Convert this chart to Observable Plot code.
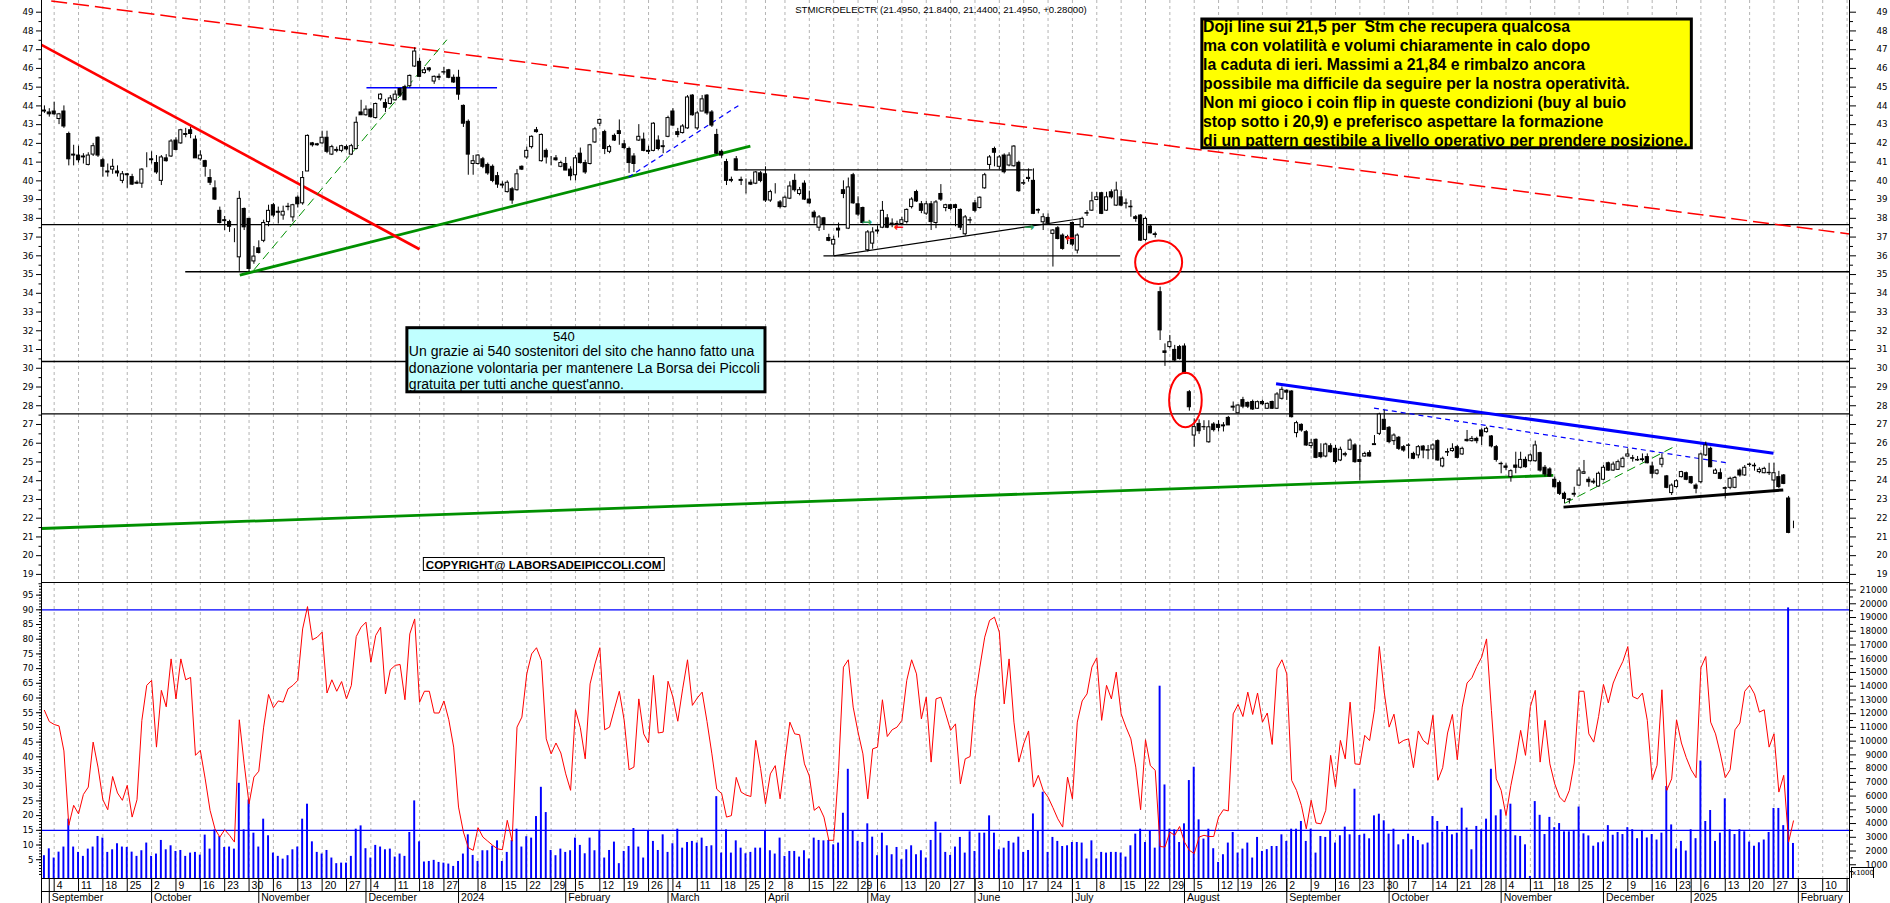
<!DOCTYPE html>
<html>
<head>
<meta charset="utf-8">
<script src="https://cdn.jsdelivr.net/npm/d3@7"></script>
<script src="https://cdn.jsdelivr.net/npm/@observablehq/plot@0.6"></script>
<style>
html,body{margin:0;padding:0;background:#fff;}
#chart{position:relative;width:1890px;height:903px;overflow:hidden;background:#fff;}
#chart svg{position:absolute;left:0;}
#x1000{position:absolute;left:1851px;top:867px;width:21px;height:10px;border:1px solid #000;border-bottom:none;font:7px "DejaVu Sans",sans-serif;line-height:10px;text-align:center;color:#000;}
</style>
</head>
<body>
<div id="chart"></div>
<script>
// ---------------- DATA ----------------
const firstSession = "2023-08-31";
const holidays = ["2023-12-25","2023-12-26","2024-01-01","2024-03-29","2024-04-01","2024-05-01","2024-08-15","2024-12-24","2024-12-25","2024-12-26","2024-12-31","2025-01-01"];
const monthNames = ["January","February","March","April","May","June","July","August","September","October","November","December"];

const open = [
43.75,43.65,43.7,43.3,43.7,42.5,41.4,41.35,41.25,40.85,
41.4,42.3,41.1,40.45,40.6,40.5,40.0,40.35,40.2,39.9,
39.85,41.0,41.15,40.95,40.0,41.2,41.3,42.15,42.0,42.45,
42.7,42.2,41.15,41.05,40.15,39.6,38.4,37.9,37.8,37.2,
35.92,38.5,37.97,35.7,36.4,36.8,37.8,38.7,38.35,38.15,
38.6,38.05,39.1,38.8,40.5,42.0,41.95,42.0,42.3,41.4,
41.6,41.6,41.8,41.4,41.7,43.65,43.5,43.8,43.35,44.35,
44.15,44.1,44.3,44.9,45.0,45.05,46.1,46.35,45.75,46.0,
45.3,45.5,45.78,45.9,45.5,45.5,44.0,43.15,40.9,40.9,
41.15,40.85,40.75,40.25,39.8,39.4,39.55,39.5,40.75,41.25,
41.8,42.7,41.05,41.6,41.05,41.2,40.75,40.9,40.6,40.3,
41.45,40.95,40.9,42.05,43.05,42.6,41.55,42.4,42.65,41.95,
41.7,41.3,42.15,42.2,41.6,41.6,42.15,41.8,42.35,43.7,
42.6,42.55,42.8,44.55,42.8,43.7,44.55,43.65,42.45,41.55,
41.0,40.0,41.15,40.05,39.95,39.9,39.85,40.4,40.35,38.95,
39.45,38.85,38.6,39.05,40.0,39.3,39.85,39.0,38.3,37.5,
38.0,36.95,36.6,37.45,39.5,37.45,40.3,38.75,38.55,36.3,
36.65,37.3,37.5,38.0,37.72,37.65,37.7,37.8,38.6,39.4,
38.75,38.25,38.75,37.75,39.3,38.55,38.7,38.7,38.45,37.15,
37.88,38.8,38.55,39.6,40.85,41.7,40.75,41.35,40.82,40.78,
40.96,39.85,40.1,40.0,38.45,37.79,38.02,37.17,37.47,37.08,
36.95,37.75,36.28,37.52,38.25,38.41,38.98,39.34,38.41,39.39,
38.68,39.12,38.78,38.62,38.06,38.15,36.85,37.56,37.15,34.06,
30.9,31.13,30.98,31.13,31.16,28.72,26.41,27.03,26.85,26.05,
27.0,26.98,26.95,27.35,27.9,27.6,28.3,28.15,28.2,27.84,
28.2,27.84,28.2,27.84,28.37,28.8,28.76,26.54,26.98,26.59,
25.85,26.18,25.47,25.29,25.84,25.7,25.08,25.36,25.65,25.88,
25.1,25.29,25.47,25.9,26.5,27.25,26.82,26.11,26.29,25.79,
25.86,25.43,25.35,25.82,25.6,25.66,26.11,24.76,25.5,25.58,
25.79,25.4,26.18,26.11,26.23,26.68,26.59,26.36,25.79,24.9,
24.76,24.19,24.81,24.69,25.11,25.04,25.04,25.47,24.69,24.6,
24.05,23.87,23.3,23.0,23.25,23.74,24.37,24.05,23.95,23.69,
24.05,24.93,24.54,24.58,24.72,25.29,25.2,25.08,25.14,25.26,
24.76,24.37,24.85,24.23,23.34,23.66,24.19,24.4,24.19,23.74,
23.92,25.35,25.7,24.37,24.4,23.6,23.62,23.62,24.54,24.28,
24.84,24.8,24.46,24.4,24.42,24.01,24.19,24.28,23.05,21.495];

const high = [
44.0,43.85,44.2,43.6,44.0,42.6,41.9,41.85,41.45,41.5,
42.0,42.35,41.2,40.9,41.15,40.8,40.5,40.4,40.35,40.0,
40.65,41.5,41.55,41.35,41.35,41.4,42.2,42.3,42.75,42.8,
42.85,42.4,41.6,41.1,40.6,40.0,38.6,38.1,37.9,37.45,
39.44,38.55,38.0,36.5,36.8,37.9,38.7,38.8,38.6,38.65,
38.8,38.75,39.2,40.5,42.45,42.05,42.0,42.65,42.65,41.9,
41.8,41.9,41.9,41.95,43.4,44.3,44.0,43.85,44.15,44.65,
44.35,44.55,44.8,44.95,45.1,45.65,47.1,46.55,46.05,46.05,
45.6,45.7,46.05,45.95,45.65,45.9,44.05,43.25,41.35,41.4,
41.25,40.95,40.85,40.45,39.95,40.0,39.65,40.6,40.8,41.8,
42.4,42.85,42.5,41.7,41.3,41.35,41.05,41.25,40.75,41.35,
41.75,41.1,41.95,42.85,43.3,42.7,41.9,42.5,43.25,42.15,
41.8,41.45,43.0,42.55,41.85,43.1,42.4,42.15,43.45,43.85,
42.8,43.0,44.55,44.6,43.7,44.55,44.6,43.75,42.75,41.65,
41.15,40.2,41.3,40.2,40.1,40.05,40.5,40.5,40.75,39.5,
39.85,38.95,39.2,39.95,40.35,39.65,40.0,39.45,38.4,38.15,
38.05,37.15,37.05,37.75,40.0,40.15,40.4,39.15,38.6,37.35,
37.5,37.6,38.9,38.2,37.97,37.85,38.05,38.5,39.1,39.5,
38.9,38.9,38.9,38.95,39.8,38.75,38.75,38.75,38.5,38.15,
38.05,38.95,39.15,40.4,41.35,41.8,41.35,41.44,41.5,41.88,
41.05,40.05,40.64,40.64,38.5,38.24,38.24,37.4,37.56,37.17,
37.1,37.8,37.17,38.06,38.41,39.39,39.39,39.39,39.39,39.52,
39.93,39.48,39.03,38.95,38.15,38.19,38.06,37.67,37.26,34.33,
31.3,31.75,31.22,31.22,31.3,28.81,27.3,27.25,27.2,27.2,
27.1,27.2,27.1,27.43,28.2,28.06,28.45,28.2,28.3,28.25,
28.3,28.15,28.25,28.7,29.0,28.85,28.8,27.17,27.03,26.68,
26.2,26.23,25.97,26.0,25.97,25.88,25.79,25.52,26.23,25.97,
25.88,25.52,25.6,26.41,27.6,27.75,26.89,26.5,26.36,25.88,
25.97,25.52,25.88,25.88,25.88,25.97,26.18,25.26,25.7,25.97,
25.88,25.79,26.68,26.36,26.32,26.77,26.86,26.41,25.88,24.99,
24.9,24.58,25.52,25.52,25.26,25.43,26.11,25.52,24.81,24.69,
24.19,23.98,23.39,23.03,23.65,24.69,25.08,24.19,24.1,24.46,
24.81,24.99,24.99,25.1,25.26,25.7,25.35,25.29,25.43,25.43,
24.99,24.6,25.43,24.28,23.83,24.05,24.5,24.46,24.23,23.83,
25.47,26.06,25.79,24.63,24.63,23.66,24.19,24.23,24.63,24.81,
24.93,24.93,24.69,24.72,24.93,24.93,24.5,24.33,23.16,21.84];

const low = [
43.6,43.4,43.5,43.0,42.8,40.8,40.8,40.95,40.9,40.8,
41.3,41.25,40.2,40.2,40.35,40.2,39.85,39.6,39.75,39.8,
39.6,40.7,40.9,40.35,39.75,41.0,41.25,41.6,41.95,42.3,
42.25,41.2,41.05,40.2,39.75,38.95,37.7,37.35,37.25,36.7,
35.17,37.35,35.12,35.55,36.1,36.7,37.55,38.05,37.7,37.9,
38.4,37.8,38.55,38.7,40.5,41.8,41.85,41.95,41.45,41.35,
41.5,41.5,41.6,41.35,41.65,43.5,43.45,43.35,43.3,44.25,
43.65,44.05,44.25,44.45,44.3,44.95,46.05,45.5,45.7,45.8,
45.15,45.35,45.65,45.45,45.2,44.3,42.85,40.3,40.3,40.85,
40.65,40.3,39.9,39.6,39.6,39.35,38.75,39.45,40.55,41.15,
41.7,42.55,41.0,40.9,40.8,41.05,40.7,40.55,40.0,40.0,
40.9,40.35,40.85,42.0,42.9,41.4,41.45,42.1,41.9,41.65,
40.4,40.45,42.1,41.55,41.4,41.55,41.6,41.45,42.3,42.9,
42.3,42.5,42.75,43.45,42.7,43.7,43.5,42.85,41.4,41.2,
39.75,39.9,40.55,39.75,39.3,39.75,39.8,39.9,38.85,38.85,
39.3,38.5,38.55,39.0,39.4,39.2,38.95,38.75,37.7,37.3,
37.35,36.75,36.0,36.95,39.05,37.4,38.75,38.1,37.7,36.2,
36.35,37.15,37.45,37.45,37.5,37.45,37.6,37.7,38.5,38.85,
38.25,38.15,37.35,37.45,38.9,38.35,38.4,37.55,37.35,37.05,
37.7,38.3,38.5,39.55,40.6,40.75,40.6,40.37,40.75,40.73,
39.39,39.75,39.93,38.2,38.24,37.35,37.7,35.4,36.85,36.3,
36.6,36.5,36.1,37.47,38.1,38.37,38.95,38.2,38.37,39.03,
38.63,38.63,38.5,38.06,37.79,36.77,36.77,37.17,36.95,31.48,
30.1,31.04,30.33,30.44,29.67,27.71,25.79,26.47,26.68,26.0,
26.6,26.6,26.6,26.95,27.7,27.57,27.84,27.85,27.75,27.8,
28.0,27.8,27.8,27.8,28.3,28.28,27.35,26.29,26.59,25.83,
25.7,25.17,25.17,25.22,25.47,24.9,25.02,25.26,25.6,24.93,
24.0,25.26,25.26,25.88,26.41,26.68,25.97,25.88,25.61,25.52,
25.17,25.12,25.17,25.17,25.12,25.12,25.04,24.69,25.29,25.52,
25.17,25.35,26.06,26.06,25.97,25.88,26.54,25.75,24.99,24.37,
24.55,23.92,24.37,24.63,24.67,24.99,24.99,24.46,24.2,24.19,
23.62,23.21,22.76,22.76,23.12,23.69,24.33,23.65,23.8,23.65,
24.0,24.5,24.5,24.55,24.69,25.26,24.99,25.03,24.99,24.9,
24.1,24.3,24.69,23.57,23.21,23.6,24.15,24.0,23.8,23.3,
23.83,25.29,24.69,24.33,24.05,23.03,23.52,23.57,24.19,24.23,
24.72,24.51,24.37,24.37,24.28,23.48,23.57,23.79,21.17,21.44];

const close = [
43.7,43.55,43.55,43.55,42.9,41.15,41.35,41.1,41.3,41.35,
41.85,41.35,40.75,40.5,40.75,40.4,40.35,40.3,39.8,39.85,
40.6,41.0,41.1,40.45,41.25,41.05,42.1,41.65,42.7,42.5,
42.5,41.2,41.35,40.75,39.9,39.0,37.75,37.85,37.55,37.2,
39.04,37.52,35.3,35.96,36.15,37.75,38.4,38.15,38.3,38.35,
38.62,38.7,38.75,40.15,42.4,41.9,41.9,42.3,41.55,41.8,
41.65,41.85,41.68,41.85,43.1,43.5,43.8,43.4,44.1,44.6,
43.9,44.4,44.6,44.55,44.3,45.6,46.9,45.55,45.9,45.9,
45.55,45.55,45.8,45.5,45.25,44.6,43.05,41.4,41.05,41.35,
40.75,40.4,40.0,39.8,39.75,39.9,38.95,40.35,40.6,41.6,
42.35,42.6,42.45,41.25,41.05,41.1,40.95,40.55,40.25,41.2,
40.95,40.45,41.9,42.75,43.25,41.7,41.8,42.15,42.5,41.75,
40.95,40.9,42.35,41.6,41.55,43.05,41.7,41.85,43.35,42.95,
42.45,42.9,44.45,43.5,43.6,44.35,43.6,42.95,41.45,41.35,
40.0,40.05,40.55,40.0,39.95,39.8,40.45,40.0,38.95,39.4,
39.45,38.6,39.1,39.7,39.5,39.5,39.0,38.8,38.05,38.05,
37.65,36.8,36.85,37.35,39.3,39.65,38.8,38.2,37.75,37.25,
37.25,37.35,38.4,37.5,37.7,37.7,37.9,38.45,39.0,38.9,
38.4,38.75,37.8,38.85,39.0,38.7,38.5,38.55,37.5,38.05,
37.9,38.4,39.1,40.3,41.25,41.5,41.25,40.46,41.35,41.83,
39.45,39.88,40.16,38.24,38.41,38.06,37.74,37.35,36.9,36.37,
37.0,36.6,37.08,37.97,38.28,38.91,39.12,38.24,39.12,39.12,
39.48,38.68,38.8,38.59,37.97,36.81,37.97,37.2,37.11,32.02,
30.82,31.39,30.41,30.5,29.7,27.92,26.86,26.64,26.86,26.85,
26.7,26.82,26.9,26.95,27.95,28.01,27.95,27.95,27.8,28.19,
28.08,28.1,27.84,28.6,28.85,28.7,27.39,27.07,26.68,25.88,
26.0,25.22,25.26,25.93,25.52,25.0,25.65,25.42,26.14,24.99,
25.0,25.43,25.29,25.95,27.53,26.71,26.06,26.41,25.7,25.61,
25.88,25.17,25.79,25.61,25.63,25.88,25.08,25.17,25.53,25.7,
25.22,25.7,26.11,26.23,26.11,26.36,26.77,25.83,25.11,24.88,
24.69,24.51,24.69,25.11,24.72,25.35,25.88,24.54,24.33,24.22,
23.65,23.3,23.03,22.98,23.3,24.54,24.45,23.92,23.9,24.37,
24.69,24.54,24.86,24.99,25.17,25.4,25.17,25.11,25.1,24.93,
24.37,24.54,25.17,23.62,23.74,23.97,24.46,24.05,23.87,23.57,
25.4,25.88,24.72,24.54,24.1,23.57,24.1,24.15,24.28,24.69,
24.86,24.77,24.58,24.63,24.4,24.4,23.66,23.83,21.215,21.495];

const oscillator = [
55.8,52,51,50.5,42,16.7,23.5,20.6,27.2,29.7,
45,36.5,25.4,22,33.3,27.7,25.2,30.3,19.5,25.4,
52.4,64.3,66,43.3,62.6,57,73.3,59.7,73.3,66.2,
67,40.5,42.2,32.5,21.8,15.5,12.7,15.2,13.3,11,
52.6,37.6,24,33.1,35.1,50.1,61.2,56.7,59,58.6,
63.1,64.3,66,83.5,91.1,79.8,80.7,82.4,61.7,66.2,
62.3,65.6,59.7,64.3,80.9,84.1,85.8,72.2,81.3,84.1,
61.4,69.6,71.1,71.4,59.4,81.8,86.9,58.6,62.3,62.3,
54.9,54.9,59,52.6,43.3,22.9,14.4,9.1,8.2,15.9,
12.7,11.3,9.9,8.7,8.4,18.4,11.3,50.1,53.5,68.2,
75,77.1,72.8,46.1,41,44.7,41.3,34.2,28.6,56,
49.9,39.3,64.8,71.6,77.1,49.2,50.1,56.3,62.3,52.4,
35.6,36.5,59.7,47.8,44.7,67.7,48.1,48.4,65.7,60.3,
52.1,63.1,73,57.5,60,62,52,41,29,27.5,
19.5,20,33,28,27,26.5,45.6,36,24,34.2,
37,25.7,39,51.8,47.8,47.5,37.6,33.5,21.8,23.1,
19.5,11.6,11.6,35.4,70.5,73,56.9,48.4,41,25.7,
42.7,43.3,59.4,46.9,49.2,50.1,52.4,66,73,68.2,
52.9,60.3,38.2,59.7,60.3,54.6,49,51.2,30.8,39.3,
40.1,59.7,70.5,80.7,86.4,87.5,82.4,58,73.3,51.8,
38.2,44.4,48.8,29.7,33.7,28.6,26.3,22.7,18.9,16.1,
33.1,25.7,51.8,59,61.4,70.5,73.7,52.4,64.3,59.7,
68.8,54.6,50.1,46.1,36.5,22,45.8,37,35.4,9.5,
9.3,14.4,13.3,16.3,11,8.2,7.1,12.7,13.3,12.9,
12.9,19.5,22,21.6,54.6,57.8,53.7,62,54.4,61.7,
51.8,54.9,44.2,69.9,73,68.2,32,28.6,23.5,15.5,
25.2,17.5,17.2,21.8,40.5,29.7,45.6,39.3,58.6,37.6,
37.4,47.3,45.5,56,77.5,62,50.1,54.5,44.5,45.6,
46.1,36.3,48.8,45.6,44.2,54.1,32,36.3,48.1,54.4,
39,56.9,65.1,66.9,70.7,73.9,80.1,55.8,32.5,28.6,
20,30.3,38.6,49,40.5,57.1,62.6,38.2,52.4,37.6,
30.8,26.3,24.6,28.6,37.9,62.3,62.3,47.8,45,53.7,
64.6,58.3,65.1,69.1,72.5,77.5,60.5,59.7,61.7,52.4,
32.2,37.1,62.8,28.6,32.5,52.6,44.7,39.7,35.6,32.9,
70.3,74.1,51.8,47.8,41,32.9,35.6,49.2,51.5,62.3,
64.3,61.4,55.2,56,43.3,47.8,28,33.7,11,18.2];

const volume = [
1660,2160,1490,1920,2290,4320,2290,1900,1610,2140,
2290,3060,2940,1900,2090,2530,2290,2260,1920,1610,
2020,2580,1610,1780,2770,2090,2380,1970,2040,1610,
1850,1900,1700,3160,2140,3540,3060,2260,2290,2140,
6930,3540,5720,3300,2290,4320,3110,1850,1610,1410,
1660,2090,2290,4320,5410,2670,1900,1780,2040,1490,
1080,1120,1120,1610,3590,3830,2170,1490,2410,2290,
2090,2140,1560,1780,1610,3350,5650,2670,1200,1240,
1320,1170,1120,1050,880,1240,1780,3180,1680,1240,
2020,2020,2360,2740,1240,1900,2770,3590,2290,3040,
2940,4510,6640,4800,2040,1660,2140,1900,2020,2940,
2410,1800,2940,2020,3500,1490,2040,2650,1080,1970,
2330,3640,2290,1490,3470,2700,2040,3180,1900,2530,
3590,2210,2620,2700,2580,
2940,2330,2380,5960,1850,3540,1850,2740,2210,1800,
1900,2210,2210,3420,2020,1780,2940,1610,1970,1970,
1560,2020,1420,2940,2770,2740,2770,2450,2580,4750,
7950,3470,2700,2620,3980,3010,1660,3300,2380,1730,
2260,1370,2090,2380,1730,2020,1490,2770,4100,3300,
1900,1680,2290,2990,1850,3400,1970,3300,3300,4560,
3300,2090,2210,2700,2580,3010,1900,2040,4700,3420,
6280,1900,2990,2700,2330,2380,2620,2620,2580,1420,
2740,1420,1900,1850,1900,1900,1850,1560,2380,3230,
3590,2620,3470,2210,14000,6810,3590,3540,2620,3980,
7130,8100,4270,2870,3590,2170,1170,1730,2580,3350,
1850,2140,2580,1490,2990,1970,2100,2330,2330,3180,
2700,3590,3590,4150,2700,3590,1850,3060,2990,3420,
2580,3110,3740,3180,
6500,3130,3230,2890,4560,4680,4200,3230,3590,2450,
2820,3230,3060,2770,2450,2580,4510,4150,3380,3790,
3180,3300,5120,3670,2090,3790,3540,4320,7950,4560,
5000,3540,5410,3110,3060,2450,150,5600,4600,3200,
4450,3700,4000,3400,3400,3500,5200,3250,3100,2350,
2600,2650,3850,3150,3350,3200,3700,3550,2900,3500,
2950,3200,2800,3300,6700,3900,2150,2700,2000,3550,
2900,8550,4150,4950,2700,3300,5800,3550,3200,3550,
3400,2650,2350,2600,2800,3350,5100,5100,3850,19700,
2550];

// horizontal support / resistance levels (price) and their start session
const levels = [{x1:-0.6, y:37.66},{x1:28.9, y:35.15},{x1:-0.6, y:30.36},{x1:-0.6, y:27.57}];
// trendlines: session index / price end points
const redSolid    = [{x1:-0.6, y1:47.26, x2:77.0,  y2:36.35}];
const redDashed   = [{x1:1.4,  y1:49.6,  x2:370.5, y2:37.17}];
const greenThick  = [{x1:40.1, y1:34.97, x2:144.9, y2:41.85},{x1:-0.6, y1:21.45, x2:309.7, y2:24.28}];
const greenDashed = [{x1:43.0, y1:35.25, x2:82.6,  y2:47.53},{x1:312.1, y1:22.80, x2:335.0, y2:25.88}];
const blueThin    = [{x1:66.1, y1:44.97, x2:92.9,  y2:44.97}];
const blueDashed  = [{x1:119.9,y1:40.2,  x2:143.0, y2:44.11},{x1:272.9, y1:27.87, x2:345.7, y2:24.94}];
const blueThick   = [{x1:252.8,y1:29.17, x2:354.9, y2:25.47}];
const blackThin   = [{x1:141.8,y1:40.59, x2:202.8, y2:40.59},{x1:159.9, y1:36.0, x2:220.8, y2:36.0},{x1:162.0, y1:36.0, x2:212.9, y2:37.99}];
const blackThick  = [{x1:311.8,y1:22.59, x2:356.9, y2:23.51}];
const gapCircle   = [{i:228.8, p:35.63}];
const gapEllipse  = [{i:234.3, p:28.28}];
const arrowsRight = [{i:168.8, p:37.79},{i:202.1, p:37.53}];
const arrowsLeft  = [{i:175.4, p:37.53},{i:210.6, p:36.96}];

const titleText = "STMICROELECTR (21.4950, 21.8400, 21.4400, 21.4950, +0.28000)";
const noteLines = [
"Doji line sui 21,5 per  Stm che recupera qualcosa",
"ma con volatilità e volumi chiaramente in calo dopo",
"la caduta di ieri. Massimi a 21,84 e rimbalzo ancora",
"possibile ma difficile da seguire per la nostra operatività.",
"Non mi gioco i coin flip in queste condizioni (buy al buio",
"stop sotto i 20,9) e preferisco aspettare la formazione",
"di un pattern gestibile a livello operativo per prendere posizione."];
const thanksTitle = "540";
const thanksLines = [
"Un grazie ai 540 sostenitori del sito che hanno fatto una",
"donazione volontaria per mantenere La Borsa dei Piccoli",
"gratuita per tutti anche quest'anno."];
const copyrightText = "COPYRIGHT@ LABORSADEIPICCOLI.COM";
// annotation anchors (session index, price)
const noteBox = [{x1:237.67, x2:338.14, y1:41.74, y2:48.61}];
const noteAnchor = [{i:237.81, p:48.653}];
const thanksBox = [{x1:74.5, x2:148.0, y1:28.717, y2:32.138}];
const thanksTitleAnchor = [{i:106.6, p:31.97}];
const thanksAnchor = [{i:74.8, p:31.246}];
const copyBox = [{x1:77.88, x2:127.33, y1:19.182, y2:19.875}];
const copyAnchor = [{i:78.29, p:19.715}];
const titleAnchor = [{i:154.1, p:49.33}];

const priceTicks = d3.range(19, 50);
const oscTicks = d3.range(5, 96, 5);
const volTicks = d3.range(1000, 21001, 1000);

// ---------------- CHECKS ----------------
for (const [name, arr] of Object.entries({open, high, low, close, oscillator, volume}))
  if (arr.length !== 360) throw new Error(name + " has length " + arr.length);

// ---------------- CALENDAR ----------------
const sessions = [];
{
  const d = new Date(firstSession + "T00:00:00Z");
  while (sessions.length < 372) {
    const wd = d.getUTCDay(), iso = d.toISOString().slice(0, 10);
    if (wd !== 0 && wd !== 6 && !holidays.includes(iso)) sessions.push(new Date(d));
    d.setUTCDate(d.getUTCDate() + 1);
  }
}
const xDomain = [-0.6, 370.5];
const weekStarts = [];
for (let i = 1; i < sessions.length && i <= xDomain[1]; i++) {
  if (sessions[i].getUTCDay() < sessions[i - 1].getUTCDay()) {
    const last = weekStarts[weekStarts.length - 1];
    if (!last || i - last.i > 3.3) weekStarts.push({i, label: String(sessions[i].getUTCDate())});
  }
}
const monthStarts = [];
for (let i = 1; i < sessions.length && i <= xDomain[1]; i++) {
  const m = sessions[i].getUTCMonth();
  if (m !== sessions[i - 1].getUTCMonth())
    monthStarts.push({i, label: m === 0 ? String(sessions[i].getUTCFullYear()) : monthNames[m]});
}

const candles = close.map((c, i) => ({i, o: open[i], h: high[i], l: low[i], c}));
const oscData = oscillator.map((r, i) => ({i, r}));
const volData = volume.map((v, i) => ({i, v}));

// ---------------- HELPERS ----------------
const W = 1890;
const axisFont = "DejaVu Sans, sans-serif";
const gridColor = "#b4b4b4";
const baseStyle = {background: "transparent", fontFamily: axisFont, fontSize: "8.7px", color: "#000", overflow: "visible"};
const noFmt = () => "";
function ellipseMark(data, {rx, ry, stroke, strokeWidth}) {
  return (index, scales) => {
    const ns = "http://www.w3.org/2000/svg";
    const g = document.createElementNS(ns, "g");
    for (const d of data) {
      const e = document.createElementNS(ns, "ellipse");
      e.setAttribute("cx", scales.x(d.i));
      e.setAttribute("cy", scales.y(d.p));
      e.setAttribute("rx", rx);
      e.setAttribute("ry", ry);
      e.setAttribute("fill", "none");
      e.setAttribute("stroke", stroke);
      e.setAttribute("stroke-width", strokeWidth);
      g.appendChild(e);
    }
    return g;
  };
}
const link = (data, o) => Plot.link(data, {x1: "x1", y1: "y1", x2: "x2", y2: "y2", ...o});

// ---------------- UPPER PANEL ----------------
const upper = Plot.plot({
  width: W, height: 582, marginLeft: 41, marginRight: 41, marginTop: 0, marginBottom: 0,
  style: baseStyle,
  x: {type: "linear", domain: xDomain, axis: null},
  y: {domain: [18.568, 49.624], axis: null},
  marks: [
    Plot.ruleX(weekStarts, {x: "i", stroke: gridColor, strokeDasharray: "3,3"}),
    Plot.link(levels, {x1: "x1", x2: () => xDomain[1], y1: "y", y2: "y", stroke: "#000", strokeWidth: 1.3}),
    link(redDashed, {stroke: "#ff0000", strokeWidth: 1.5, strokeDasharray: "16,6"}),
    link(greenThick, {stroke: "#009000", strokeWidth: 2.8}),
    link(redSolid, {stroke: "#ff0000", strokeWidth: 2.6}),
    link(greenDashed, {stroke: "#009000", strokeWidth: 1, strokeDasharray: "9,5"}),
    link(blueThin, {stroke: "#0000ff", strokeWidth: 1.5}),
    link(blueDashed, {stroke: "#0000ff", strokeWidth: 1.2, strokeDasharray: "5,4"}),
    link(blueThick, {stroke: "#0000ff", strokeWidth: 3}),
    link(blackThin, {stroke: "#000", strokeWidth: 1.2}),
    link(blackThick, {stroke: "#000", strokeWidth: 3}),
    Plot.ruleX(candles, {x: "i", y1: "l", y2: "h", stroke: "#000", strokeWidth: 1}),
    Plot.rect(candles.filter(d => d.c >= d.o), {x1: d => d.i - 0.32, x2: d => d.i + 0.32, y1: "o", y2: "c", fill: "#fff", stroke: "#000", strokeWidth: 1}),
    Plot.rect(candles.filter(d => d.c < d.o), {x1: d => d.i - 0.32, x2: d => d.i + 0.32, y1: "o", y2: "c", fill: "#000", stroke: "#000", strokeWidth: 1}),
    ellipseMark(gapCircle, {rx: 23.5, ry: 21.7, stroke: "#ff0000", strokeWidth: 2}),
    ellipseMark(gapEllipse, {rx: 16.3, ry: 27.3, stroke: "#ff0000", strokeWidth: 2}),
    Plot.text(arrowsRight, {x: "i", y: "p", text: () => "→", fill: "#2ca05a", fontSize: 12, fontWeight: "bold", fontFamily: axisFont}),
    Plot.text(arrowsLeft, {x: "i", y: "p", text: () => "←", fill: "#ff1010", fontSize: 12, fontWeight: "bold", fontFamily: axisFont}),
    // title
    Plot.text(titleAnchor, {x: "i", y: "p", text: () => titleText, textAnchor: "start", lineAnchor: "top", fontFamily: "Liberation Sans, Arial, sans-serif", fontSize: 9.6, fill: "#000"}),
    // yellow note
    Plot.rect(noteBox, {x1: "x1", x2: "x2", y1: "y1", y2: "y2", fill: "#ffff00", stroke: "#000", strokeWidth: 3}),
    Plot.text(noteAnchor, {x: "i", y: "p", text: () => noteLines.join("\n"), textAnchor: "start", lineAnchor: "top", lineHeight: 19 / 15.8, fontFamily: "Liberation Sans, Arial, sans-serif", fontWeight: "bold", fontSize: 15.8, fill: "#000"}),
    // cyan thanks box
    Plot.rect(thanksBox, {x1: "x1", x2: "x2", y1: "y1", y2: "y2", fill: "#c0ffff", stroke: "#000", strokeWidth: 3}),
    Plot.text(thanksTitleAnchor, {x: "i", y: "p", text: () => thanksTitle, textAnchor: "middle", lineAnchor: "top", fontFamily: "Liberation Sans, Arial, sans-serif", fontSize: 13, fill: "#000"}),
    Plot.text(thanksAnchor, {x: "i", y: "p", text: () => thanksLines.join("\n"), textAnchor: "start", lineAnchor: "top", lineHeight: 16.3 / 14, fontFamily: "Liberation Sans, Arial, sans-serif", fontSize: 14, fill: "#000"}),
    // copyright
    Plot.rect(copyBox, {x1: "x1", x2: "x2", y1: "y1", y2: "y2", fill: "#fff", stroke: "#000", strokeWidth: 1}),
    Plot.text(copyAnchor, {x: "i", y: "p", text: () => copyrightText, textAnchor: "start", lineAnchor: "top", fontFamily: "Liberation Sans, Arial, sans-serif", fontWeight: "bold", fontSize: 11.5, fill: "#000"}),
    // axes
    Plot.ruleX(xDomain, {stroke: "#000"}),
    Plot.axisY(priceTicks, {anchor: "left", tickSize: 5, tickPadding: 3, label: null}),
    Plot.axisY(priceTicks.map(t => t - 0.5), {anchor: "left", tickSize: 2.5, tickFormat: noFmt, label: null}),
    Plot.axisY(priceTicks, {anchor: "right", tickSize: 6, tickFormat: noFmt, label: null}),
    Plot.axisY(priceTicks.map(t => t - 0.5), {anchor: "right", tickSize: 3, tickFormat: noFmt, label: null}),
    Plot.text(priceTicks, {y: d => d, text: d => String(d), frameAnchor: "right", dx: 38, textAnchor: "end"})
  ]
});
upper.style.top = "0px";

// ---------------- LOWER PANEL: VOLUME (bottom layer) ----------------
const lowerH = 296;
const volPlot = Plot.plot({
  width: W, height: lowerH, marginLeft: 41, marginRight: 41, marginTop: 0, marginBottom: 0,
  style: baseStyle,
  x: {type: "linear", domain: xDomain, axis: null},
  y: {domain: [0, 21550], axis: null},
  marks: [
    Plot.ruleX(weekStarts, {x: "i", stroke: gridColor, strokeDasharray: "3,3"}),
    Plot.rect(volData, {x1: d => d.i - 0.2, x2: d => d.i + 0.2, y1: 0, y2: "v", fill: "#0000ff"}),
    Plot.axisY(volTicks, {anchor: "right", tickSize: 6, tickFormat: noFmt, label: null}),
    Plot.axisY(volTicks.map(t => t - 500), {anchor: "right", tickSize: 3, tickFormat: noFmt, label: null}),
    Plot.text(volTicks, {y: d => d, text: d => String(d), frameAnchor: "right", dx: 38, textAnchor: "end"})
  ]
});
volPlot.style.top = "582px";

// ---------------- LOWER PANEL: OSCILLATOR (top layer) ----------------
const oscDomain = [-1.39, 99.29];
const oscPlot = Plot.plot({
  width: W, height: lowerH, marginLeft: 41, marginRight: 41, marginTop: 0, marginBottom: 0,
  style: baseStyle,
  x: {type: "linear", domain: xDomain, axis: null},
  y: {domain: oscDomain, axis: null},
  marks: [
    Plot.ruleY([oscDomain[1]], {stroke: "#000"}),
    Plot.ruleY([90, 15], {stroke: "#0000ff", strokeWidth: 1.3}),
    Plot.line(oscData, {x: "i", y: "r", stroke: "#ff0000", strokeWidth: 1}),
    Plot.ruleX(xDomain, {stroke: "#000"}),
    Plot.axisY(oscTicks, {anchor: "left", tickSize: 5, tickPadding: 3, label: null}),
    Plot.axisY(d3.range(0, 99), {anchor: "left", tickSize: 2, tickFormat: noFmt, label: null})
  ]
});
oscPlot.style.top = "582px";

// ---------------- DATE AXIS ROWS ----------------
const rowFont = "Liberation Sans, Arial, sans-serif";
const axisRows = Plot.plot({
  width: W, height: 25, marginLeft: 41, marginRight: 41, marginTop: 0, marginBottom: 0,
  style: baseStyle,
  x: {type: "linear", domain: xDomain, axis: null},
  y: {domain: [0, 25], range: [0, 25], axis: null},
  marks: [
    Plot.ruleY([0, 13], {stroke: "#000"}),
    Plot.ruleX(xDomain, {y1: 0, y2: 25, stroke: "#000"}),
    Plot.ruleX(weekStarts, {x: "i", y1: 0, y2: 13, stroke: "#000"}),
    Plot.ruleX(monthStarts, {x: "i", y1: 0, y2: 25, stroke: "#000"}),
    Plot.text(weekStarts.filter(d => d.i < xDomain[1] - 3), {x: "i", y: 7.3, text: "label", textAnchor: "start", dx: 2.5, fontFamily: rowFont, fontSize: 10.5, fill: "#000"}),
    Plot.text(monthStarts, {x: "i", y: 19.6, text: "label", textAnchor: "start", dx: 2.5, fontFamily: rowFont, fontSize: 10.5, fill: "#000"})
  ]
});
axisRows.style.top = "878px";

const chart = document.getElementById("chart");
chart.append(upper, volPlot, oscPlot, axisRows);
const unit = document.createElement("div");
unit.id = "x1000";
unit.textContent = "x1000";
chart.append(unit);
</script>
</body>
</html>
